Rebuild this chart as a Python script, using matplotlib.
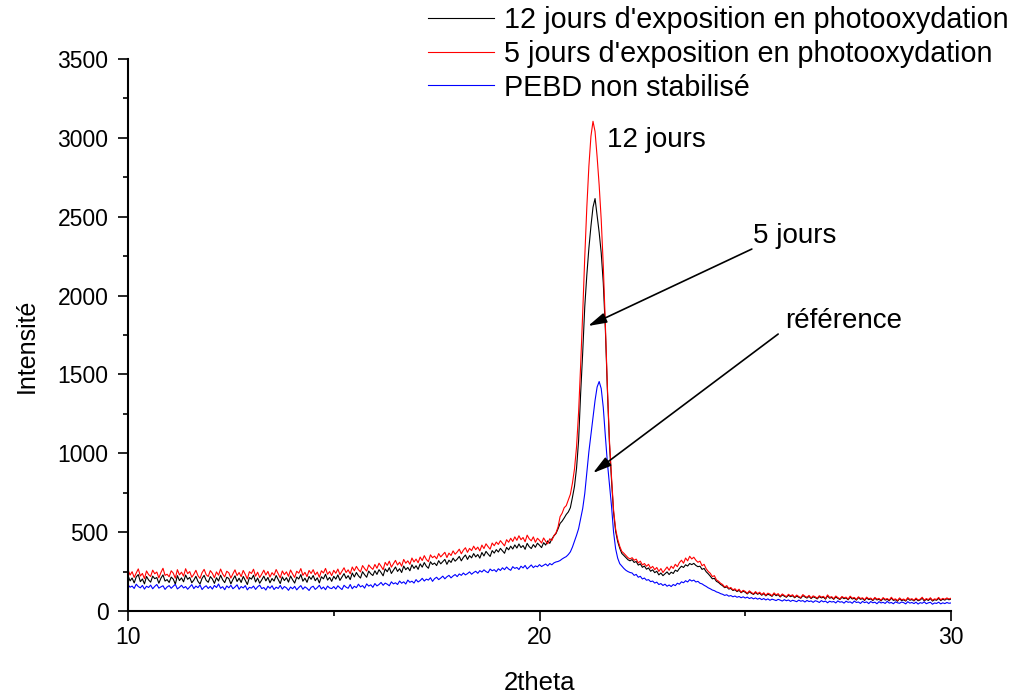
import numpy as np
import matplotlib
matplotlib.use("Agg")
import matplotlib.pyplot as plt

plt.rcParams['font.family'] = ['Liberation Sans', 'DejaVu Sans']

# 2theta positions, 0.05 degree step
theta = np.round(np.linspace(10.0, 30.0, 401), 2)

# 12 jours d'exposition (black)
i12 = [
    # 10.00 - 20.50
    224, 191, 209, 178, 216, 231, 186, 203, 172, 219,
    197, 183, 221, 205, 212, 176, 208, 229, 190, 199,
    181, 215, 202, 170, 224, 193, 210, 185, 228, 201,
    213, 179, 196, 220, 188, 171, 207, 226, 194, 182,
    218, 203, 175, 211, 190, 227, 198, 180, 214, 206,
    172, 200, 223, 187, 208, 181, 219, 195, 168, 212,
    202, 227, 184, 209, 176, 197, 221, 191, 213, 179,
    206, 190, 225, 199, 174, 216, 193, 211, 183, 222,
    198, 177, 215, 203, 231, 189, 208, 182, 219, 201,
    225, 192, 210, 178, 217, 204, 233, 196, 213, 188,
    220, 202, 229, 194, 215, 237, 207, 224, 199, 241,
    216, 244, 223, 209, 249, 230, 214, 253, 236, 225,
    255, 232, 262, 244, 223, 267, 249, 275, 238, 259,
    279, 251, 268, 244, 285, 262, 276, 255, 293, 270,
    287, 264, 299, 278, 307, 284, 271, 312, 295, 304,
    288, 319, 299, 313, 327, 296, 322, 308, 335, 316,
    329, 346, 318, 340, 355, 327, 351, 337, 364, 343,
    358, 335, 371, 349, 378, 361, 346, 383, 367, 389,
    374, 397, 381, 366, 403, 388, 411, 393, 419, 399,
    425, 402, 415, 391, 429, 408, 396, 421, 404, 430,
    417, 402, 433, 418, 445, 429, 457, 476, 491, 521,
    555,
    # 20.55 - 22.20
    570, 590, 612, 628, 655, 720, 790, 905, 1080, 1380,
    1640, 1930, 2130, 2300, 2440, 2560, 2615, 2510, 2400, 2270,
    2080, 1790, 1400, 1060, 830, 625, 505, 440, 398, 365,
    352, 338, 325, 318,
    # 22.25 - 30.00
    326, 308, 314, 291, 299, 277, 285, 265, 273, 252,
    261, 243, 252, 229, 241, 224, 236, 248, 231, 246,
    238, 259, 251, 270, 284, 276, 293, 285, 301, 294,
    302, 289, 281, 284, 264, 270, 249, 236, 221, 204,
    207, 188, 181, 169, 160, 148, 153, 139, 143, 130,
    135, 123, 131, 116, 126, 119, 108, 122, 112, 105,
    117, 106, 113, 100, 110, 96, 107, 101, 93, 109,
    97, 104, 89, 102, 94, 87, 100, 91, 97, 84,
    95, 87, 81, 98, 89, 82, 93, 79, 90, 85,
    77, 91, 83, 88, 75, 96, 81, 86, 74, 89,
    80, 73, 87, 78, 83, 71, 88, 76, 81, 69,
    85, 74, 79, 67, 83, 72, 77, 66, 81, 70,
    75, 64, 80, 69, 74, 65, 82, 67, 72, 62,
    78, 66, 71, 63, 80, 68, 73, 64, 77, 65,
    70, 81, 64, 74, 67, 79, 63, 72, 68, 80,
    66, 75, 69, 78, 71, 76,
]

# 5 jours d'exposition (red)
i5 = [
    # 10.00 - 20.50
    262, 228, 249, 213, 241, 267, 222, 238, 205, 254,
    231, 219, 259, 236, 247, 210, 244, 271, 226, 233,
    217, 255, 240, 208, 262, 229, 246, 221, 268, 237,
    250, 214, 233, 258, 224, 207, 243, 264, 230, 219,
    256, 239, 211, 248, 227, 266, 235, 216, 252, 242,
    209, 236, 261, 225, 244, 218, 257, 232, 203, 249,
    238, 265, 221, 246, 212, 234, 259, 228, 251, 215,
    243, 227, 263, 237, 210, 254, 231, 248, 220, 260,
    235, 213, 252, 240, 269, 226, 245, 218, 257, 238,
    262, 229, 247, 214, 255, 241, 270, 233, 250, 224,
    258, 239, 266, 231, 252, 274, 244, 261, 236, 279,
    255, 283, 262, 248, 288, 269, 253, 292, 276, 264,
    295, 271, 303, 284, 262, 308, 289, 316, 278, 299,
    321, 292, 309, 284, 327, 303, 318, 296, 336, 311,
    329, 306, 342, 320, 351, 327, 313, 356, 338, 348,
    331, 364, 343, 357, 372, 339, 367, 352, 381, 360,
    374, 392, 363, 386, 401, 372, 397, 383, 411, 389,
    405, 381, 418, 396, 426, 408, 392, 431, 414, 437,
    422, 446, 429, 413, 452, 436, 461, 441, 470, 448,
    477, 452, 466, 439, 481, 458, 445, 470, 436, 461,
    448, 431, 463, 442, 426, 458, 447, 478, 495, 532,
    598,
    # 20.55 - 22.20
    620, 655, 668, 705, 740, 810, 900, 1040, 1260, 1560,
    1890, 2245, 2560, 2820, 3010, 3105, 3040, 2880, 2700, 2480,
    2190, 1820, 1420, 1080, 850, 640, 520, 455, 410, 378,
    366, 352, 338, 330,
    # 22.25 - 30.00
    338, 322, 329, 305, 316, 292, 301, 284, 296, 271,
    283, 262, 276, 251, 269, 244, 262, 279, 258, 284,
    270, 296, 281, 307, 322, 303, 336, 318, 347, 330,
    341, 322, 309, 316, 287, 296, 268, 251, 239, 218,
    224, 197, 189, 176, 168, 152, 161, 143, 149, 134,
    141, 127, 138, 119, 131, 124, 112, 128, 117, 109,
    123, 110, 119, 104, 116, 99, 113, 107, 97, 115,
    102, 110, 93, 108, 99, 91, 106, 96, 103, 88,
    101, 92, 85, 104, 94, 87, 99, 83, 96, 90,
    81, 97, 88, 93, 79, 102, 86, 91, 78, 95,
    85, 77, 92, 83, 88, 75, 94, 81, 86, 73,
    90, 79, 84, 71, 88, 77, 82, 70, 86, 75,
    80, 68, 85, 74, 79, 69, 87, 72, 77, 66,
    83, 71, 76, 67, 85, 73, 78, 68, 82, 70,
    75, 87, 69, 79, 72, 84, 68, 77, 73, 86,
    71, 80, 74, 83, 76, 81,
]

# PEBD non stabilise (blue)
iref = [
    # 10.00 - 20.50
    166, 151, 158, 143, 170, 155, 147, 162, 139, 157,
    149, 164, 141, 156, 168, 145, 153, 160, 137, 152,
    161, 144, 157, 169, 140, 150, 163, 146, 155, 138,
    153, 167, 142, 158, 148, 165, 136, 151, 160, 143,
    156, 139, 162, 149, 171, 144, 154, 135, 159, 147,
    163, 141, 152, 166, 138, 155, 146, 161, 134, 150,
    145, 158, 137, 153, 164, 142, 149, 133, 157, 144,
    160, 136, 151, 143, 162, 139, 155, 147, 131, 152,
    141, 156, 134, 149, 161, 138, 153, 144, 130, 150,
    157, 137, 148, 163, 140, 152, 135, 158, 146, 142,
    155, 139, 160, 147, 136, 163, 151, 144, 168, 141,
    157, 148, 170, 153, 161, 145, 172, 158, 166, 150,
    174, 159, 168, 181, 163, 177, 170, 160, 185, 172,
    179, 168, 190, 176, 185, 171, 196, 182, 189, 177,
    199, 184, 193, 207, 190, 202, 196, 211, 188, 205,
    214, 199, 209, 221, 204, 217, 226, 210, 222, 231,
    218, 235, 226, 241, 229, 237, 248, 233, 244, 252,
    239, 256, 247, 261, 250, 243, 266, 255, 262, 249,
    268, 257, 274, 262, 279, 266, 258, 281, 270, 276,
    263, 284, 273, 289, 267, 279, 292, 275, 286, 280,
    294, 282, 290, 298, 286, 301, 293, 305, 311, 314,
    320,
    # 20.55 - 22.20
    330, 338, 345, 358, 375, 405, 442, 480, 522, 585,
    650, 745, 880, 1010, 1120, 1230, 1335, 1420, 1455, 1410,
    1290, 1110, 940, 800, 665, 500, 395, 335, 300, 285,
    270, 258, 250, 244,
    # 22.25 - 30.00
    241, 226, 232, 214, 220, 203, 209, 195, 199, 186,
    190, 177, 183, 168, 174, 162, 170, 157, 165, 155,
    168, 161, 176, 170, 185, 179, 192, 184, 199, 190,
    196, 184, 188, 176, 172, 163, 156, 147, 141, 133,
    129, 121, 117, 110, 106, 99, 103, 94, 98, 90,
    95, 87, 92, 84, 90, 82, 88, 79, 85, 77,
    83, 75, 81, 72, 79, 70, 77, 68, 75, 71,
    66, 74, 69, 63, 72, 65, 70, 61, 68, 64,
    59, 69, 62, 66, 57, 67, 60, 64, 55, 65,
    61, 54, 66, 58, 63, 52, 62, 57, 60, 51,
    64, 56, 59, 50, 62, 55, 58, 49, 63, 54,
    57, 48, 61, 53, 58, 47, 60, 52, 56, 46,
    59, 51, 55, 48, 61, 50, 54, 46, 58, 52,
    49, 57, 53, 45, 59, 50, 54, 47, 56, 44,
    53, 49, 58, 46, 52, 55, 43, 51, 48, 56,
    45, 52, 47, 54, 49, 51,
]

labels = ["12 jours d'exposition en photooxydation",
          "5 jours d'exposition en photooxydation",
          "PEBD non stabilisé"]
colors = ["#000000", "#ff0000", "#0000ff"]

fig = plt.figure(figsize=(10.26, 6.93), dpi=100)
ax = fig.add_axes([128 / 1026, 1 - 611 / 693, 823 / 1026, 552 / 693])

l12, = ax.plot(theta, i12, color=colors[0], lw=0.8)
l5, = ax.plot(theta, i5, color=colors[1], lw=0.8)
lref, = ax.plot(theta, iref, color=colors[2], lw=0.8)

ax.set_xlim(10, 30)
ax.set_ylim(0, 3500)
ax.set_xticks([10, 20, 30])
ax.set_xticks([15, 25], minor=True)
ax.set_yticks(np.arange(0, 3501, 500))
ax.set_yticks(np.arange(250, 3500, 500), minor=True)

for side in ("top", "right"):
    ax.spines[side].set_visible(False)
for side in ("left", "bottom"):
    ax.spines[side].set_linewidth(1.5)

ax.tick_params(which="major", direction="out", length=7, width=1.2, labelsize=16.5)
ax.tick_params(which="minor", direction="out", length=3.6, width=1.2)
ax.tick_params(axis="y", pad=7)
ax.tick_params(axis="x", pad=4)

ax.set_xlabel("2theta", fontsize=18.5)
ax.set_ylabel("Intensité", fontsize=18)
ax.xaxis.set_label_coords(0.5, -0.108)
ax.yaxis.set_label_coords(-0.108, 0.48)

# peak annotations
ax.text(21.64, 2942, "12 jours", fontsize=20, ha="left", va="baseline")
ax.text(25.19, 2333, "5 jours", fontsize=20, ha="left", va="baseline")
ax.text(25.97, 1794, "référence", fontsize=20, ha="left", va="baseline")

arrow = dict(arrowstyle="-|>,head_length=0.8,head_width=0.22", color="black",
             lw=1.2, mutation_scale=14, shrinkA=0, shrinkB=0)
ax.annotate("", xy=(21.18, 1807), xytext=(25.16, 2295), arrowprops=arrow)
ax.annotate("", xy=(21.30, 875), xytext=(25.80, 1756), arrowprops=arrow)

fig.legend([l12, l5, lref], labels, loc="upper left",
           bbox_to_anchor=(428 / 1026, 1 - 6 / 693), frameon=False,
           fontsize=20.7, handlelength=2.3, handletextpad=0.35,
           labelspacing=0.2, borderpad=0, borderaxespad=0)

fig.savefig("out.png", dpi=100)
